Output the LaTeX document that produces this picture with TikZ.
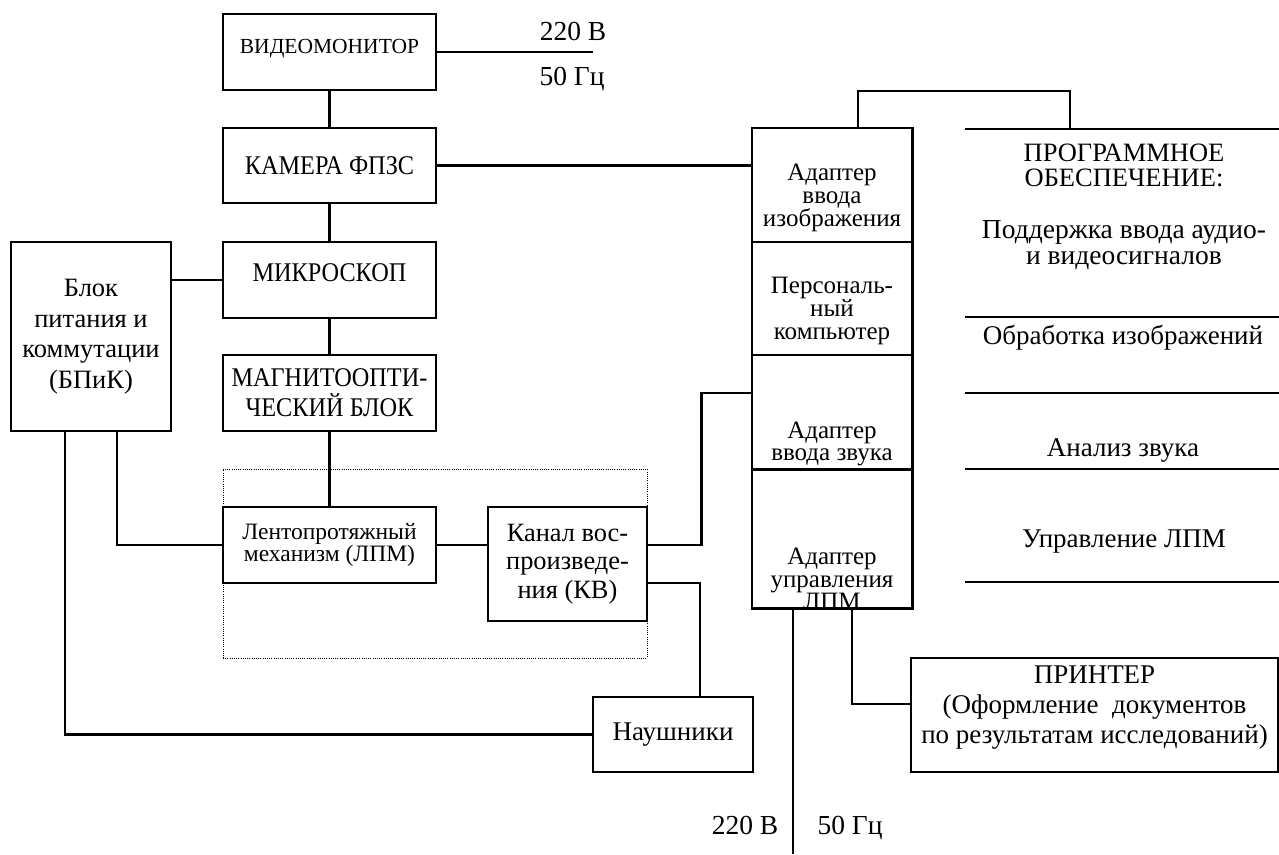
\documentclass[tikz,border=0pt]{standalone}
\usepackage{fontspec}
\setmainfont{Liberation Serif}
\newfontfamily\condf[FakeStretch=0.9]{Liberation Serif}
\newcommand{\fsVM}{\fontsize{21.5}{24}\selectfont}
\newcommand{\fsCaps}{\condf\fontsize{27}{30}\selectfont}
\newcommand{\fsBig}{\fontsize{27}{30}\selectfont}
\newcommand{\fsAd}{\fontsize{25}{22.8}\selectfont}
\newcommand{\fsLPM}{\fontsize{23.5}{22.5}\selectfont}
\newcommand{\fsKV}{\fontsize{26.4}{28.5}\selectfont}
\begin{document}
\begin{tikzpicture}[x=1pt,y=-1pt,
  box/.style={draw,line width=2.7pt,rectangle,inner sep=0pt,align=center,font=\fsBig},
  conn/.style={line width=2.5pt},
  thinl/.style={line width=1.6pt},
  thickl/.style={line width=2.6pt},
  txt/.style={inner sep=0pt,align=center,font=\fsBig},
  atxt/.style={inner sep=0pt,align=center,font=\fsAd},
  sect/.style={inner sep=0pt,minimum width=160pt}]
\useasboundingbox (0,0) rectangle (1279,854);

% dotted group frame
\node[draw,line width=0.9pt,dash pattern=on 1pt off 1.2pt,minimum width=424pt,minimum height=189pt,inner sep=0pt] (grp) at (435,563.5) {};

% left column boxes
\node[box,minimum width=213pt,minimum height=76pt,font=\fsVM,text depth=12pt] (vm) at (329.5,52) {ВИДЕОМОНИТОР};
\node[box,minimum width=213pt,minimum height=75pt,font=\fsCaps] (cam) at (329.5,165.5) {КАМЕРА ФПЗС};
\node[box,minimum width=213pt,minimum height=76pt,font=\fsCaps,text depth=14pt] (mic) at (329.5,280) {МИКРОСКОП};
\node[box,minimum width=213pt,minimum height=76pt,font=\fsCaps] (mag) at (329.5,393) {МАГНИТООПТИ-\\ЧЕСКИЙ БЛОК};
\node[box,minimum width=160pt,minimum height=189pt,font=\fontsize{26.5}{30.5}\selectfont] (bpik) at (91,336.5) {Блок\\питания и\\коммутации\\(БПиК)};
\node[box,minimum width=213pt,minimum height=76pt,font=\fsLPM] (lpm) at (329.5,545) {Лентопротяжный\\механизм (ЛПМ)};
\node[box,minimum width=159pt,minimum height=114pt,font=\fsKV] (kv) at (567.5,564) {Канал вос-\\произведе-\\ния (КВ)};
\node[box,minimum width=160pt,minimum height=75pt] (naush) at (673,734.5) {Наушники};
\node[box,minimum width=367pt,minimum height=114pt,text depth=20pt] (prn) at (1094.5,715) {ПРИНТЕР\\(Оформление~ документов\\по результатам исследований)};

% adapter column sections
\node[sect,minimum height=114pt] (a1) at (832,185) {};
\node[sect,minimum height=113pt] (a2) at (832,298.5) {};
\node[sect,minimum height=114pt] (a3) at (832,412) {};
\node[sect,minimum height=139pt] (a4) at (832,538.5) {};
\node[atxt] (t1) at (832,198) {Адаптер\\ввода\\изображения};
\node[atxt] (t2) at (832,311) {Персональ-\\ный\\компьютер};
\node[atxt] (t3) at (832,444) {Адаптер\\ввода\ звука};
\begin{scope}
  \clip (a4.north west) rectangle (a4.south east);
  \node[atxt] (t4) at (832,579) {Адаптер\\управления\\ЛПМ};
\end{scope}
\draw[thickl] (a1.north west) rectangle (a4.south east);
\draw[thinl] (a1.south west) -- (a1.south east);
\draw[thinl] (a2.south west) -- (a2.south east);
\draw[thickl] (a3.south west) -- (a3.south east);

% software list
\coordinate (s0l) at (965,129);   \coordinate (s0r) at (1279,129);
\coordinate (s1l) at (965,317);   \coordinate (s1r) at (1279,317);
\coordinate (s2l) at (965,393);   \coordinate (s2r) at (1279,393);
\coordinate (s3l) at (965,469);   \coordinate (s3r) at (1279,469);
\coordinate (s4l) at (965,582);   \coordinate (s4r) at (1279,582);
\draw[thickl] (s0l) -- (s0r);
\draw[thinl] (s1l) -- (s1r);
\draw[thinl] (s2l) -- (s2r);
\draw[thinl] (s3l) -- (s3r);
\draw[thickl] (s4l) -- (s4r);
\node[txt,font=\fontsize{26.5}{25}\selectfont] (sw1) at (1124,165) {ПРОГРАММНОЕ\\ОБЕСПЕЧЕНИЕ:};
\node[txt,font=\fontsize{27.5}{26.5}\selectfont] (sw2) at (1124,245) {Поддержка ввода аудио-\\и видеосигналов};
\node[txt,font=\fontsize{27}{30}\selectfont] (sw3) at (1123,338) {Обработка изображений};
\node[txt] (sw4) at (1123,450) {Анализ звука};
\node[txt] (sw5) at (1124,542) {Управление ЛПМ};

% power labels
\coordinate (pw1) at (593,52);
\coordinate (pw2) at (793,854);
\node[txt,font=\fontsize{27.5}{30}\selectfont] (v1) at (573,31) {220 В};
\node[txt,font=\fontsize{27.5}{30}\selectfont] (f1) at (572,79) {50 Гц};
\node[txt,font=\fontsize{27.5}{30}\selectfont,text depth=6pt] (v2) at (745,828) {220 В};
\node[txt,font=\fontsize{27.5}{30}\selectfont,text depth=6pt] (f2) at (850,828) {50 Гц};

% connectors
\draw[conn] (vm.east) -- (pw1);
\draw[conn] (vm.south) -- (cam.north);
\draw[conn] (cam.south) -- (mic.north);
\draw[conn] (mic.south) -- (mag.north);
\draw[conn] (mag.south) -- (lpm.north);
\draw[conn] (cam.east) -- (cam.east -| a1.west);
\draw[conn] (mic.west -| bpik.east) -- (mic.west);
\draw[conn] ([xshift=26pt]bpik.south) |- (lpm.west);
\draw[conn] ([xshift=-26pt]bpik.south) |- (naush.west);
\draw[conn] (lpm.east) -- (kv.west |- lpm.east);
\draw[conn] ([yshift=19pt]kv.east) -- ++(53,0) |- ([yshift=19pt]a3.west);
\draw[conn] ([yshift=-19pt]kv.east) -| ([xshift=27pt]naush.north);
\draw[conn] ([xshift=-39pt]a4.south) -- (pw2);
\draw[conn] ([xshift=20pt]a4.south) |- ([yshift=11pt]prn.west);
\draw[conn] ([xshift=26pt]a1.north) -- ++(0,-37) -| (s0l -| 1070,0);
\end{tikzpicture}
\end{document}
